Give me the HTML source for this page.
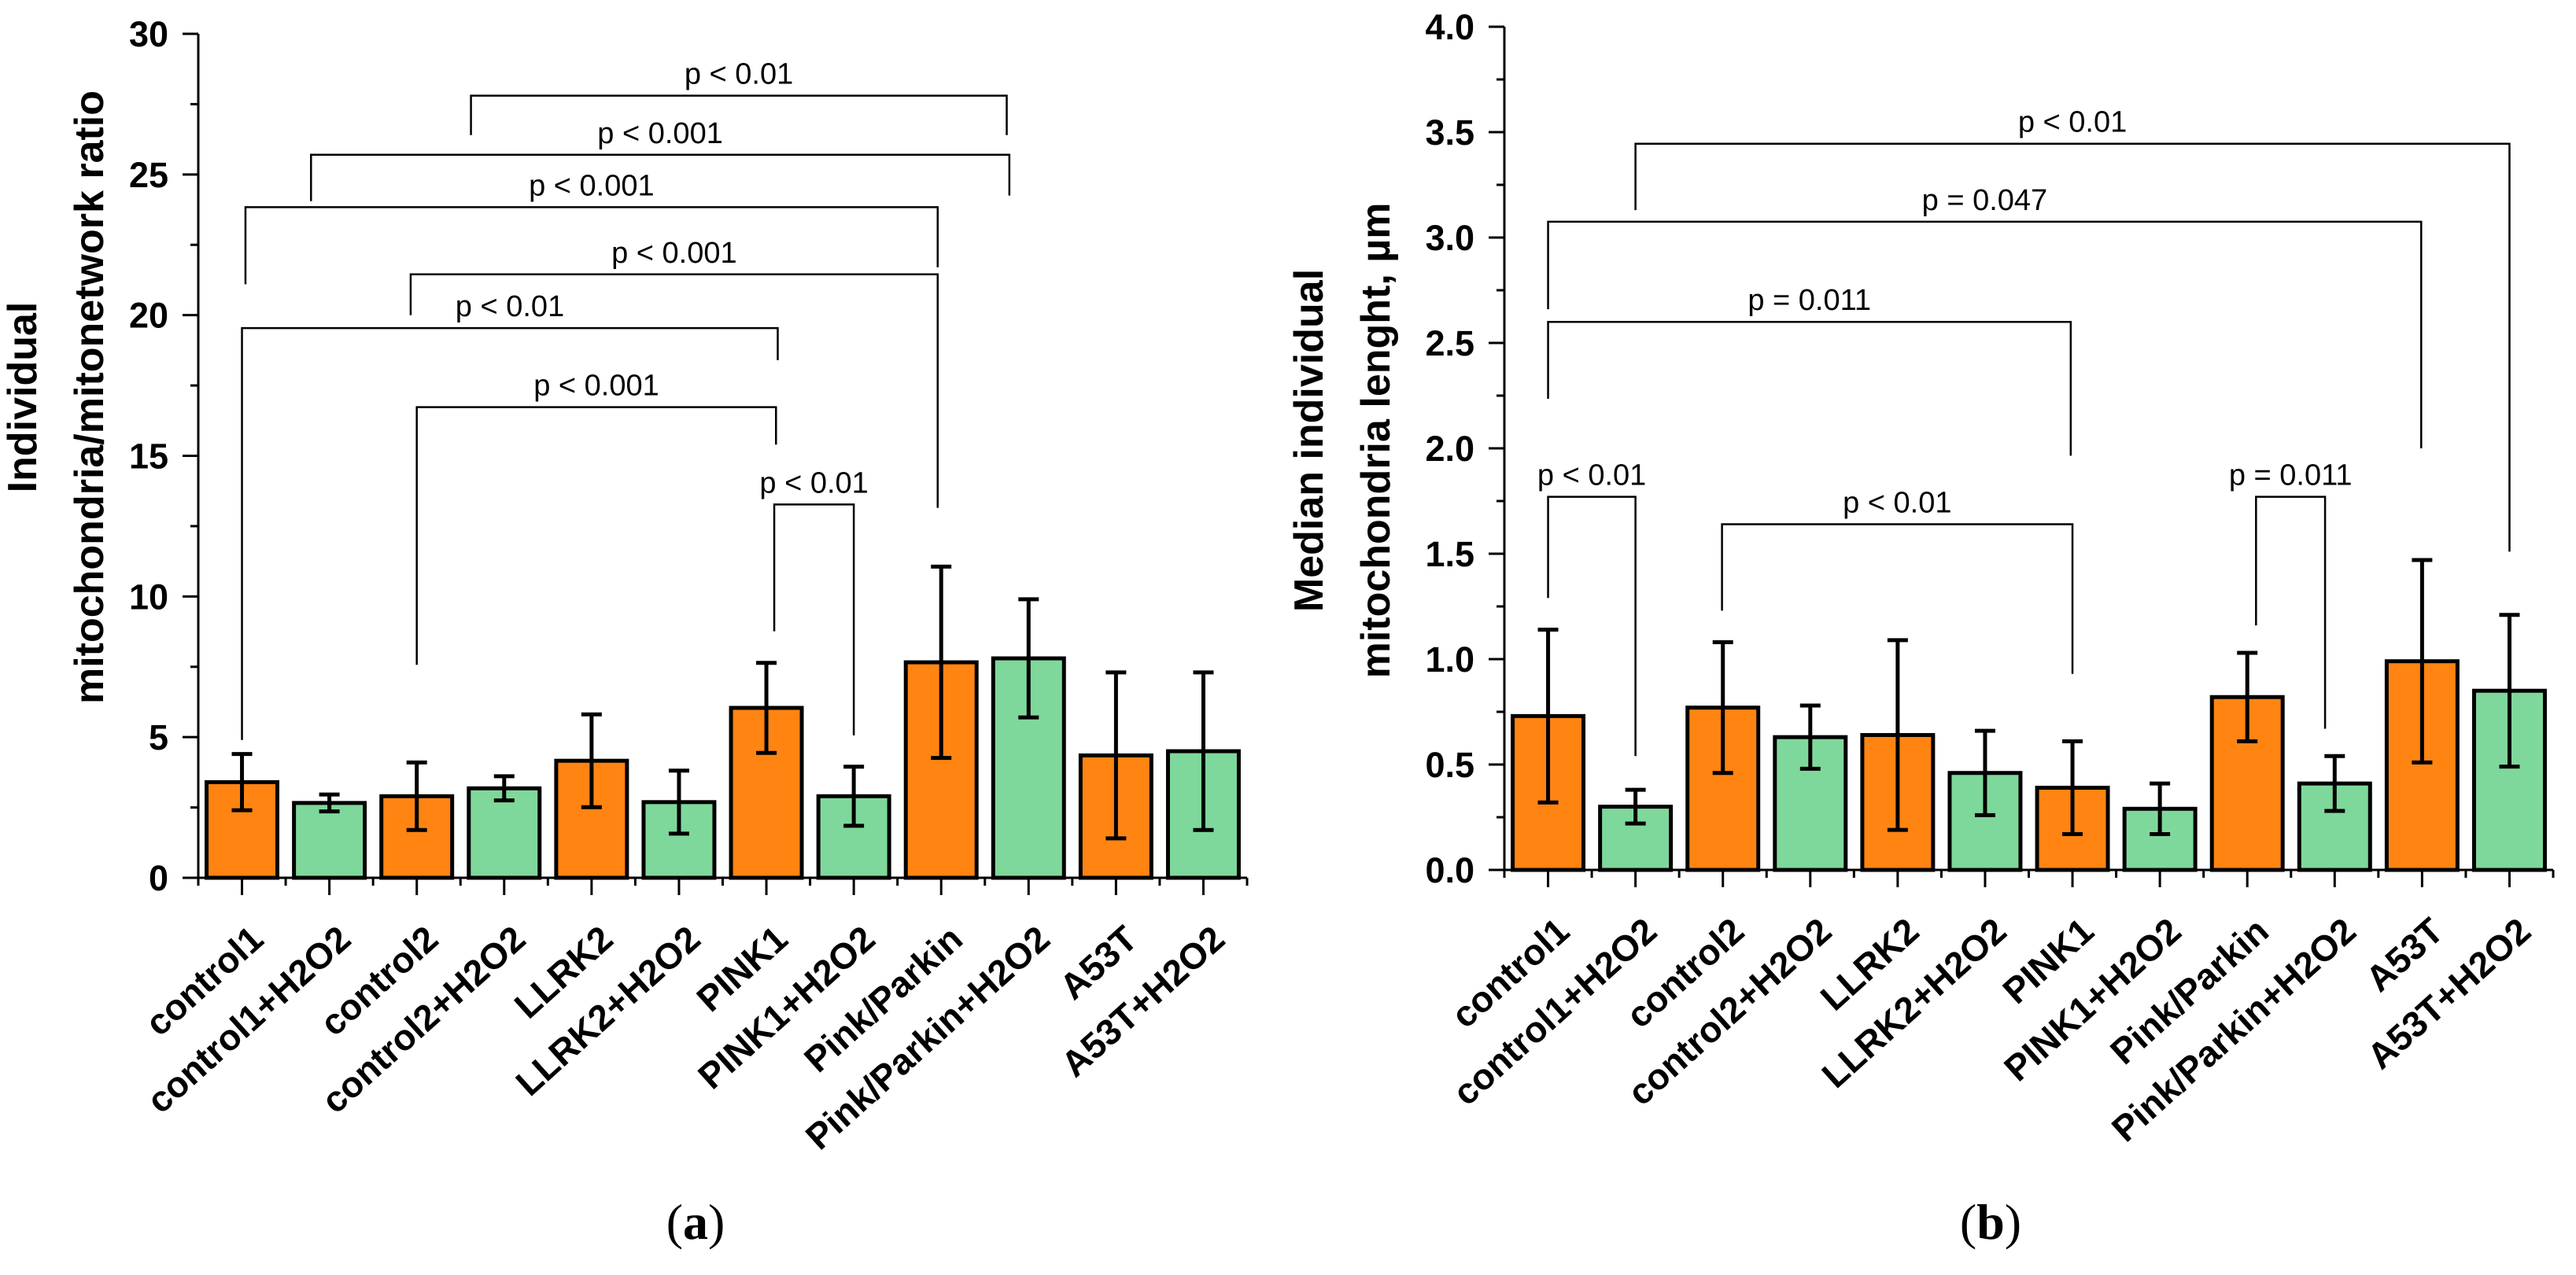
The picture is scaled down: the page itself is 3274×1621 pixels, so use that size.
<!DOCTYPE html>
<html><head><meta charset="utf-8"><style>
html,body{margin:0;padding:0;background:#fff;}
svg{display:block;font-family:"Liberation Sans",Arial,sans-serif;}
</style></head><body>
<svg id="fig" width="3274" height="1621" viewBox="0 0 3274 1621" xmlns="http://www.w3.org/2000/svg">
<text x="884" y="1575" font-family="Liberation Serif,serif" font-size="64" text-anchor="middle">(<tspan font-weight="bold">a</tspan>)</text>
<text x="2530" y="1575" font-family="Liberation Serif,serif" font-size="64" text-anchor="middle">(<tspan font-weight="bold">b</tspan>)</text>
</svg>
<script>
const categories = ["control1","control1+H2O2","control2","control2+H2O2","LLRK2","LLRK2+H2O2","PINK1","PINK1+H2O2","Pink/Parkin","Pink/Parkin+H2O2","A53T","A53T+H2O2"];
const aValues = [3.4,2.66,2.9,3.18,4.16,2.69,6.04,2.9,7.66,7.8,4.35,4.5];
const aErrors = [1.0,0.3,1.2,0.43,1.65,1.12,1.6,1.05,3.4,2.1,2.95,2.8];
const bValues = [0.73,0.30,0.77,0.63,0.64,0.46,0.39,0.29,0.82,0.41,0.99,0.85];
const bErrors = [0.41,0.08,0.31,0.15,0.45,0.20,0.22,0.12,0.21,0.13,0.48,0.36];
const aTicks = ["0","5","10","15","20","25","30"];
const bTicks = ["0.0","0.5","1.0","1.5","2.0","2.5","3.0","3.5","4.0"];
// brackets: [leftIdx, leftBottom, rightIdx, rightBottom, top, label]
const aBrackets = [
 [2.62,26.4,8.75,26.4,27.8,"p < 0.01"],
 [0.79,24.05,8.78,24.25,25.7,"p < 0.001"],
 [0.04,21.1,7.96,21.7,23.84,"p < 0.001"],
 [1.93,20.0,7.96,13.15,21.45,"p < 0.001"],
 [0,4.9,6.13,18.4,19.54,"p < 0.01"],
 [2.0,7.57,6.11,15.4,16.73,"p < 0.001"],
 [6.09,8.76,7.0,5.06,13.27,"p < 0.01"]
];
const bBrackets = [
 [1.0,3.13,11.0,1.51,3.445,"p < 0.01"],
 [0,2.66,9.99,2.0,3.075,"p = 0.047"],
 [0,2.235,5.98,1.965,2.6,"p = 0.011"],
 [0,1.29,1.0,0.54,1.77,"p < 0.01"],
 [1.99,1.23,6.0,0.93,1.64,"p < 0.01"],
 [8.1,1.16,8.89,0.67,1.77,"p = 0.011"]
];
const NS="http://www.w3.org/2000/svg";
const svg=document.getElementById('fig');
function mk(tag,attrs,parent,txt){const e=document.createElementNS(NS,tag);for(const k in attrs)e.setAttribute(k,attrs[k]);if(txt!==undefined)e.textContent=txt;(parent||svg).appendChild(e);return e;}
function drawChart(cfg){
 const g=mk('g',{});
 
 
 const band=(cfg.x1-cfg.x0)/categories.length;
 const xs=i=>cfg.x0+band*(i+0.5);
 const ys=v=>cfg.y0-(v/cfg.max)*(cfg.y0-cfg.yTop);
 categories.forEach((c,i)=>{
  const v=cfg.values[i],w=band*0.81;
  const r=mk('rect',{x:xs(i)-w/2,y:ys(v),width:w,height:ys(0)-ys(v),fill:i%2?'#7fd89b':'#ff8412',stroke:'#000','stroke-width':5},g);
  
  
  const e=cfg.errors[i];
  const eb=mk('path',{d:`M${xs(i)},${ys(v+e)}V${ys(v-e)}M${xs(i)-13},${ys(v+e)}h26M${xs(i)-13},${ys(v-e)}h26`,stroke:'#000','stroke-width':5,fill:'none'},g);
  
  
  mk('line',{x1:xs(i),x2:xs(i),y1:cfg.y0,y2:cfg.y0+22,stroke:'#000','stroke-width':3},g);
  mk('line',{x1:cfg.x0+band*i,x2:cfg.x0+band*i,y1:cfg.y0,y2:cfg.y0+10,stroke:'#000','stroke-width':3},g);
  const lx=xs(i)+30,ly=cfg.y0+82;
  const t=mk('text',{x:lx,y:ly,'text-anchor':'end','font-weight':'bold','font-size':46,transform:`rotate(-42 ${lx} ${ly})`},g,c);
  
  
 });
 mk('line',{x1:cfg.x1,x2:cfg.x1,y1:cfg.y0,y2:cfg.y0+10,stroke:'#000','stroke-width':3},g);
 const ax=mk('path',{d:`M${cfg.x0-20},${cfg.y0}H${cfg.x1}M${cfg.x0},${cfg.y0+10}V${cfg.yTop}`,stroke:'#000','stroke-width':3,fill:'none'},g);
 
 
 cfg.ticks.forEach((lab,k)=>{
  const v=parseFloat(lab),y=ys(v);
  mk('line',{x1:cfg.x0-20,x2:cfg.x0,y1:y,y2:y,stroke:'#000','stroke-width':3},g);
  const mv=v+cfg.step/2;
  if(mv<cfg.max) mk('line',{x1:cfg.x0-10,x2:cfg.x0,y1:ys(mv),y2:ys(mv),stroke:'#000','stroke-width':3},g);
  const t=mk('text',{x:cfg.x0-38,y:y+16,'text-anchor':'end','font-weight':'bold','font-size':45},g,lab);
  
  
 });
 const tt=mk('text',{transform:`translate(${cfg.titleX},${cfg.titleY}) rotate(-90)`,'text-anchor':'middle','font-weight':'bold','font-size':52},g);
 
 
 mk('tspan',{x:0,y:0},tt,cfg.title[0]);
 mk('tspan',{x:0,y:85},tt,cfg.title[1]);
 cfg.brackets.forEach(b=>{
  const [li,lb,ri,rb,top,lab]=b;
  const p=mk('path',{d:`M${xs(li)},${ys(lb)}V${ys(top)}H${xs(ri)}V${ys(rb)}`,stroke:'#000','stroke-width':2.5,fill:'none'},g);
  
  
  const t=mk('text',{x:(xs(li)+xs(ri))/2,y:ys(top)-15,'text-anchor':'middle','font-size':38},g,lab);
  
  
 });
}
drawChart({name:'chart-a',x0:252,x1:1585,y0:1116,yTop:43,max:30,step:5,values:aValues,errors:aErrors,ticks:aTicks,brackets:aBrackets,titleX:46,titleY:505,title:["Individual","mitochondria/mitonetwork ratio"]});
drawChart({name:'chart-b',x0:1912,x1:3245,y0:1106,yTop:34,max:4,step:0.5,values:bValues,errors:bErrors,ticks:bTicks,brackets:bBrackets,titleX:1681,titleY:560,title:["Median individual","mitochondria lenght, µm"]});
</script>
</body></html>
